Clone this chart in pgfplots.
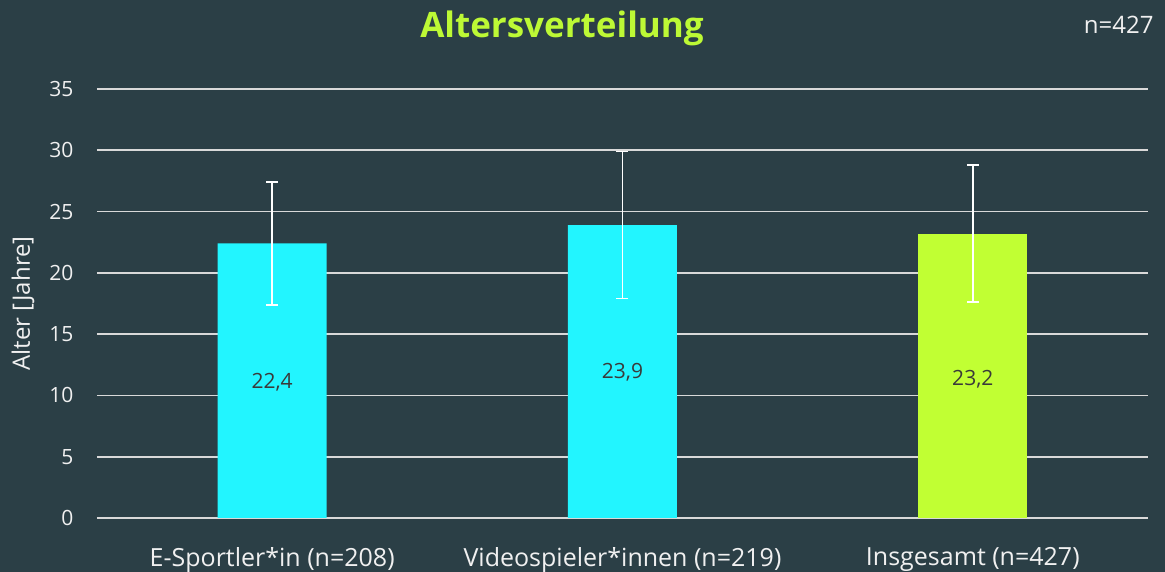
\documentclass[border=0pt]{standalone}
\usepackage{pgfplots}
\pgfplotsset{compat=1.18}
\usepackage{fontspec}
\setmainfont{Open Sans}
\definecolor{bg}{HTML}{2B3F46}
\definecolor{cyanbar}{HTML}{22F5FF}
\definecolor{greenbar}{HTML}{C1FF33}
\definecolor{titlegreen}{HTML}{BDF935}
\definecolor{gridcol}{HTML}{D9D9D9}
\definecolor{lbl}{HTML}{3A3A3A}
\definecolor{txt}{HTML}{F0F0F0}
\begin{document}
\begin{tikzpicture}[x=1pt,y=1pt]
\fill[bg] (-97,-54) rectangle (1068,518);
\useasboundingbox (-97,-54) rectangle (1068,518);
\begin{axis}[
  at={(0,0)}, anchor=south west,
  scale only axis, width=1051pt, height=429pt,
  xmin=-0.5, xmax=2.5, ymin=0, ymax=35,
  axis line style={draw=none},
  major tick length=0pt,
  tick style={draw=none},
  ytick={0,5,...,35},
  xtick={0,1,2},
  xticklabels={E-Sportler*in (n=208), Videospieler*innen (n=219), Insgesamt (n=427)},
  xmajorgrids=false, ymajorgrids=true,
  grid style={draw=gridcol, line width=1.8pt},
  /pgf/number format/assume math mode=true,
  yticklabel style={font=\fontsize{21}{25}\selectfont, text=txt, xshift=-20pt},
  xticklabel style={font=\fontsize{25}{30}\selectfont, text=txt, yshift=-26pt},
  ylabel={Alter [Jahre]},
  every axis y label/.style={at={(axis description cs:-0.0704,0.5)}, rotate=90, anchor=center, font=\fontsize{24}{28}\selectfont, text=txt},
  ybar, bar width=109pt, bar shift=0pt,
  clip=false,
]
\addplot[fill=cyanbar, draw=none,
  error bars/.cd, y dir=both, y explicit,
  error bar style={white, line width=1.8pt},
  error mark options={rotate=90, mark size=6pt, line width=1.8pt, white}]
  coordinates {(0,22.4) +- (0,5.0) (1,23.9) +- (0,6.0)};
\addplot[fill=greenbar, draw=none,
  error bars/.cd, y dir=both, y explicit,
  error bar style={white, line width=1.8pt},
  error mark options={rotate=90, mark size=6pt, line width=1.8pt, white}]
  coordinates {(2,23.2) +- (0,5.6)};
\addplot[draw=none, mark=none, ybar=0pt, fill=none,
  point meta=explicit symbolic,
  nodes near coords, nodes near coords align=center,
  every node near coord/.style={anchor=center, font=\fontsize{21}{25}\selectfont, text=lbl}]
  coordinates {(0,11.1) [22,4] (1,11.9) [23,9] (2,11.3) [23,2]};
\end{axis}
\node[font=\fontsize{35}{40}\selectfont\bfseries, text=titlegreen] at (465,490) {Altersverteilung};
\node[font=\fontsize{24}{28}\selectfont, text=txt, anchor=east] at (1060,493) {n=427};
\end{tikzpicture}
\end{document}
